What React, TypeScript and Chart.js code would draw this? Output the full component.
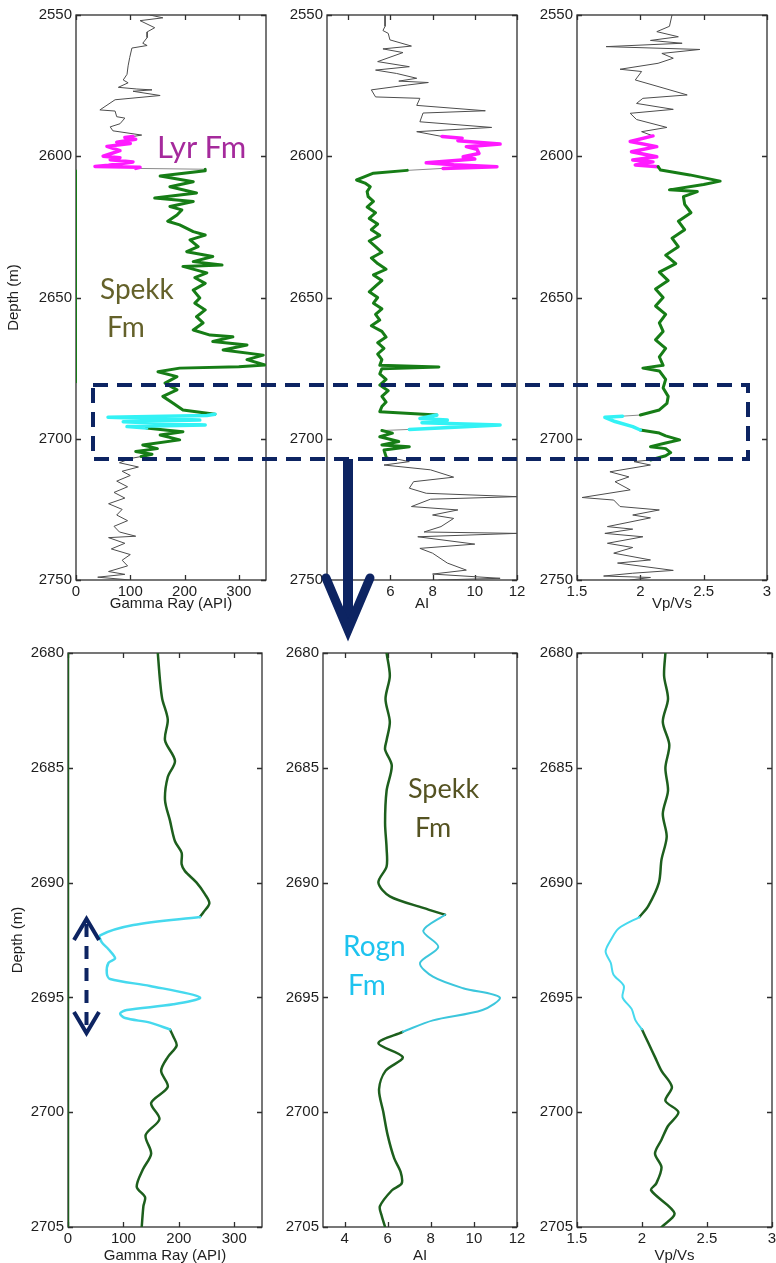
import React, { useEffect, useRef } from "react";
import { Chart, registerables } from "chart.js";
Chart.register(...registerables);

type P = [number, number]; // [depth (m), log value]

// ---------------- TOP ROW : 2550 - 2750 m ----------------
const GR_TOP_BLACK_UP: P[] = [[2550,136],[2551,160],[2552,118],[2554.5,145],[2556,131],[2558,131],[2560,123],[2560.8,131],[2561.7,103],[2565,99],[2568,96],[2571,94],[2573,87],[2574,96],[2575.6,78],[2576.2,112],[2576.5,140],[2577,105],[2578.5,155],[2580,72],[2583.6,44],[2584,72],[2586,75],[2586.5,90],[2588.5,81],[2589.6,63],[2591,68],[2592.5,121],[2593,105]];
const GR_TOP_LYR: P[] = [[2593,105],[2593.4,90],[2594,110],[2595,75],[2595.5,100],[2596.5,57],[2598,81],[2600,50],[2600.5,81],[2601.2,63],[2602,105],[2603.2,60],[2603.6,35],[2603.9,118],[2604.3,110]];
const GR_TOP_SPEKK_UP: P[] = [[2604.6,238],[2605.1,238],[2607,155],[2609,216],[2610.8,173],[2613,222],[2614.8,145],[2616,216],[2617.8,173],[2619,195],[2620.8,186],[2623,169],[2624.3,191],[2626.7,216],[2627.9,238],[2629.6,210],[2632,225],[2633.8,204],[2635.5,252],[2637.3,216],[2638.5,269],[2639,197],[2641.3,241],[2643,219],[2645,238],[2647.4,216],[2650.2,228],[2652,219],[2654.4,238],[2656.8,222],[2659,234],[2661.5,216],[2663.3,247],[2663.9,289],[2665.6,252],[2666.8,315],[2668.6,271],[2670.4,345],[2672,315],[2673.9,348],[2674.5,300],[2675,191],[2676.3,151],[2678,186],[2680.3,164],[2682.7,186],[2685,160],[2687.4,179],[2689.8,197],[2691.3,256]];
const GR_TOP_ROGN: P[] = [[2691.3,256],[2691.8,241],[2692.4,59],[2693.4,228],[2694,87],[2695.1,238],[2695.7,94],[2696.2,130]];
const GR_TOP_SPEKK_LOW: P[] = [[2696.2,130],[2697,168],[2697.5,197],[2698.7,155],[2700.4,191],[2702.2,123],[2703.5,150],[2704.5,110],[2705.5,140],[2706.3,120]];
const GR_TOP_BLACK_LOW: P[] = [[2706.3,120],[2707,100],[2708.5,80],[2710,115],[2711.5,85],[2713,100],[2715,75],[2717,95],[2719,70],[2721,90],[2723,60],[2725,85],[2727,75],[2729,95],[2731,70],[2733,80],[2734.5,110],[2735,60],[2737,90],[2739,65],[2741,100],[2743,85],[2745,95],[2747,60],[2748,90],[2749,40],[2750,100]];
const GR_TOP_ZERO: P[] = [[2605,0],[2680,0]];

const AI_TOP_BLACK_UP: P[] = [[2550,5.75],[2554,5.75],[2555.5,5.65],[2556.5,5.9],[2558.8,5.98],[2561,7.0],[2562,5.65],[2563.3,6.6],[2566.5,5.4],[2568.3,6.9],[2569.5,5.3],[2570.7,6.3],[2572.4,7.25],[2573.4,6.4],[2573.9,7.8],[2574.8,6.8],[2576.5,5.1],[2579,5.3],[2579.5,7.4],[2582,7.25],[2583.9,10.5],[2584.7,7.55],[2587.8,7.4],[2589.8,10.8],[2591.3,7.25],[2593,8.45]];
const AI_TOP_LYR: P[] = [[2593,8.45],[2593.6,9.4],[2594.5,9.2],[2595.7,11.2],[2596.6,9.6],[2597.5,10.1],[2599,10.2],[2600.2,9.45],[2601,10.0],[2602.3,7.7],[2603,9.0],[2603.7,11.05],[2604.3,8.5]];
const AI_TOP_SPEKK_UP: P[] = [[2605,6.8],[2606,5.2],[2607.5,4.7],[2608.4,4.4],[2609.5,4.8],[2610.8,5.05],[2612.5,4.9],[2614.3,4.95],[2616,5.2],[2618,4.9],[2620,5.3],[2622,5.0],[2624,5.4],[2626,5.1],[2628,5.5],[2630,5.0],[2632,5.3],[2634,5.6],[2636,5.1],[2638,5.4],[2640,5.8],[2642,5.2],[2644,5.6],[2646,5.3],[2648,5.0],[2650,5.4],[2652,5.2],[2654,5.6],[2656,5.3],[2658,5.5],[2660,5.1],[2662,5.6],[2664,5.8],[2666,5.4],[2668,5.7],[2670,5.4],[2672,5.6],[2674,5.5],[2674.6,8.3],[2675.2,5.6],[2677,5.5],[2679,5.8],[2681,5.5],[2683,5.9],[2685,5.6],[2687,5.8],[2688.6,5.6],[2690.4,5.5],[2691.6,8.2]];
const AI_TOP_ROGN: P[] = [[2691.6,8.2],[2692.8,7.4],[2693.4,8.7],[2694.3,7.5],[2695.1,11.2],[2696,8.8],[2696.7,6.9]];
const AI_TOP_SPEKK_LOW: P[] = [[2697.1,5.6],[2698,6.1],[2699.3,5.5],[2701,6.4],[2702.2,5.6],[2702.8,6.9],[2704,5.7],[2706.4,5.8]];
const AI_TOP_BLACK_LOW: P[] = [[2706.4,5.8],[2708.1,6.9],[2709.3,5.7],[2711,7.9],[2713.6,9.0],[2715.2,7.1],[2717.5,6.9],[2719.3,7.7],[2720.5,12.0],[2721.4,7.9],[2724,7.0],[2725.2,9.2],[2727,8.0],[2728.2,9.0],[2731.1,8.4],[2733,7.6],[2733.5,12.0],[2734.7,7.3],[2737.3,10.0],[2738.8,7.4],[2740.5,8.0],[2744,8.7],[2746.5,9.6],[2747.9,8.0],[2749.4,11.2],[2750,8.3]];

const VPVS_TOP_BLACK_UP: P[] = [[2550,2.25],[2554,2.23],[2555.9,2.13],[2557.7,2.3],[2559,2.08],[2560,2.33],[2561.2,1.73],[2562.2,2.47],[2563.6,2.17],[2565.3,2.26],[2567.1,2.14],[2569.2,1.84],[2570,2.01],[2573,1.96],[2574.8,2.1],[2578.3,2.37],[2579.5,2.02],[2581.3,1.97],[2583.4,2.26],[2584.8,1.92],[2587,1.97],[2589.8,2.21],[2591.3,2.01],[2592.8,2.1]];
const VPVS_TOP_LYR: P[] = [[2592.8,2.1],[2594.8,1.92],[2596.6,2.13],[2598.4,1.93],[2600.2,2.13],[2601.3,1.94],[2602,2.1],[2603.1,1.96],[2603.7,2.14]];
const VPVS_TOP_SPEKK_UP: P[] = [[2603.7,2.14],[2604.9,2.16],[2606.6,2.39],[2608.8,2.63],[2610,2.5],[2611.9,2.23],[2612.5,2.45],[2614.3,2.34],[2617,2.35],[2620,2.4],[2623,2.3],[2626,2.35],[2629,2.25],[2632,2.3],[2635,2.2],[2638,2.28],[2641,2.15],[2644,2.22],[2647,2.12],[2650,2.18],[2653,2.12],[2656,2.2],[2659,2.15],[2662,2.18],[2665,2.12],[2668,2.2],[2671,2.15],[2674,2.18],[2675,2.02],[2676,2.15],[2679,2.2],[2682,2.18],[2685,2.22],[2687.5,2.21],[2689.8,2.15],[2691.6,2.0]];
const VPVS_TOP_ROGN: P[] = [[2692,1.86],[2692.4,1.72],[2693.9,1.8],[2695.7,1.94],[2696.9,2.0]];
const VPVS_TOP_SPEKK_LOW: P[] = [[2696.9,2.0],[2698,2.15],[2699,2.2],[2700.4,2.31],[2701.5,2.2],[2702.8,2.08],[2703.5,2.2],[2704.9,2.24],[2706,2.2],[2707.5,2.08]];
const VPVS_TOP_BLACK_LOW: P[] = [[2707.5,2.08],[2708.1,1.95],[2709.3,2.08],[2711.7,1.76],[2713.5,1.91],[2715.2,1.8],[2718.1,1.92],[2720.8,1.54],[2721.7,1.79],[2724,1.84],[2725.2,2.15],[2727,1.94],[2728,2.08],[2731.1,1.74],[2732,1.94],[2733.5,1.72],[2734.7,2.02],[2737,1.74],[2738.5,1.94],[2740.5,1.79],[2742.9,2.08],[2744,1.82],[2746.6,2.26],[2747.6,1.94],[2748.6,1.71],[2749.1,2.08],[2750,1.92]];

// ---------------- BOTTOM ROW : 2680 - 2705 m ----------------
const GR_BOT_SPEKK_UP: P[] = [[2680,162],[2681.2,166],[2682,170],[2682.9,180],[2683.8,175],[2684.7,193],[2685.4,180],[2686.4,175],[2687.3,184],[2688.2,193],[2688.7,205],[2689.2,205],[2689.5,211],[2690,232],[2690.5,247],[2690.9,255],[2691.3,244],[2691.5,238]];
const GR_BOT_ROGN: P[] = [[2691.5,238],[2691.85,118],[2692.3,58],[2692.6,61],[2692.9,73],[2693.3,85],[2693.5,73],[2693.95,70],[2694.2,76],[2694.5,148],[2695,238],[2695.3,190],[2695.55,106],[2695.7,94],[2695.9,103],[2696.1,148],[2696.4,184]];
const GR_BOT_SPEKK_LOW: P[] = [[2696.4,184],[2696.7,190],[2697.1,196],[2697.6,180],[2698.2,168],[2698.9,180],[2699.6,150],[2700.3,165],[2701,140],[2701.8,150],[2702.5,135],[2703.25,124],[2703.7,139],[2704.1,136],[2705,133]];
const GR_BOT_ZERO: P[] = [[2680,0],[2705,0]];

const AI_BOT_SPEKK_UP: P[] = [[2680,5.95],[2681,6.1],[2682,5.9],[2683,6.1],[2683.8,5.95],[2684.2,5.88],[2684.9,6.19],[2686,5.95],[2687.4,5.88],[2688.5,5.95],[2689.3,5.95],[2690,5.57],[2690.6,6.1],[2691.1,7.65],[2691.4,8.66]];
const AI_BOT_ROGN: P[] = [[2691.4,8.66],[2692.1,7.65],[2692.8,8.35],[2693.5,7.5],[2694.1,8.1],[2694.6,9.5],[2695,11.2],[2695.55,10.4],[2696,8.1],[2696.5,6.7]];
const AI_BOT_SPEKK_LOW: P[] = [[2696.5,6.7],[2697,5.57],[2697.6,6.7],[2698.2,5.9],[2699,5.6],[2700,5.8],[2701,6.0],[2702,6.3],[2702.6,6.6],[2703.1,6.65],[2703.4,6.2],[2704.1,5.64],[2704.5,5.72],[2705,5.88]];

const VPVS_BOT_SPEKK_UP: P[] = [[2680,2.18],[2681,2.17],[2682,2.2],[2683,2.16],[2684,2.21],[2685,2.18],[2686,2.2],[2687,2.16],[2688,2.19],[2689,2.15],[2690,2.13],[2691,2.05],[2691.5,1.98]];
const VPVS_BOT_ROGN: P[] = [[2691.5,1.98],[2692,1.82],[2692.5,1.76],[2693,1.72],[2693.5,1.76],[2694,1.78],[2694.5,1.86],[2695,1.85],[2695.5,1.92],[2696,1.95],[2696.4,2.0]];
const VPVS_BOT_SPEKK_LOW: P[] = [[2696.4,2.0],[2697,2.05],[2697.6,2.1],[2698.2,2.15],[2698.9,2.23],[2699.5,2.18],[2700,2.28],[2700.6,2.2],[2701.2,2.15],[2701.8,2.1],[2702.4,2.15],[2703.1,2.11],[2703.4,2.07],[2704.4,2.25],[2705,2.15]];

// axis ticks
const DEPTH_TICKS_TOP = [2550, 2600, 2650, 2700, 2750];
const DEPTH_TICKS_BOT = [2680, 2685, 2690, 2695, 2700, 2705];
const GR_TICKS = [0, 100, 200, 300];
const AI_TICKS = [4, 6, 8, 10, 12];
const VPVS_TICKS = [1.5, 2, 2.5, 3];

const FONT = '"Liberation Sans", Arial, Helvetica, sans-serif';
const BLACK = "#4d4d4d";
const MAGENTA = "#ff1aff";
const GREEN_T = "#167d16";
const GREEN_B = "#1d5f1d";
const CYAN_T = "#33f2f5";
const CYAN_B = "#46d9ee";
const LINK = "#8a8a8a";
const NAVY = "#0d2462";

interface Seg { pts: P[]; color: string; width: number; tension?: number }
interface Spec {
  plotLeft: number; plotRight: number; plotTop: number; plotBottom: number;
  wy: number; padT: number; padR: number; hx: number;
  xMin: number; xMax: number; xTicks: number[]; xHide?: number[]; xTitle: string; xTitlePad: number;
  yMin: number; yMax: number; yTicks: number[]; yTitle?: string; yTitlePad?: number;
  segs: Seg[];
}

const link = (a: P[], b: P[]): P[] => [a[a.length - 1], b[0]];

const TOP = { plotTop: 15, plotBottom: 580, padT: 15, hx: 36, yMin: 2550, yMax: 2750, yTicks: DEPTH_TICKS_TOP, xTitlePad: 5 };
const BOT = { plotTop: 653, plotBottom: 1227, padT: 20, hx: 36, yMin: 2680, yMax: 2705, yTicks: DEPTH_TICKS_BOT, xTitlePad: 0 };

const SPECS: Spec[] = [
  { ...TOP, plotLeft: 76, plotRight: 266, wy: 76, padR: 10, xMin: 0, xMax: 350, xTicks: GR_TICKS, xTitle: "Gamma Ray (API)", yTitle: "Depth (m)", yTitlePad: 6,
    segs: [
      { pts: GR_TOP_ZERO, color: GREEN_T, width: 2 },
      { pts: GR_TOP_BLACK_UP, color: BLACK, width: 1 },
      { pts: GR_TOP_BLACK_LOW, color: BLACK, width: 1 },
      { pts: link(GR_TOP_LYR, GR_TOP_SPEKK_UP), color: LINK, width: 1 },
      { pts: GR_TOP_LYR, color: MAGENTA, width: 3.5 },
      { pts: GR_TOP_SPEKK_UP, color: GREEN_T, width: 3 },
      { pts: GR_TOP_SPEKK_LOW, color: GREEN_T, width: 3 },
      { pts: GR_TOP_ROGN, color: CYAN_T, width: 3.5 },
    ] },
  { ...TOP, plotLeft: 327, plotRight: 517, wy: 50, padR: 12, xMin: 3, xMax: 12, xTicks: AI_TICKS, xHide: [4], xTitle: "AI",
    segs: [
      { pts: AI_TOP_BLACK_UP, color: BLACK, width: 1 },
      { pts: AI_TOP_BLACK_LOW, color: BLACK, width: 1 },
      { pts: link(AI_TOP_LYR, AI_TOP_SPEKK_UP), color: LINK, width: 1 },
      { pts: link(AI_TOP_ROGN, AI_TOP_SPEKK_LOW), color: LINK, width: 1 },
      { pts: AI_TOP_LYR, color: MAGENTA, width: 3.5 },
      { pts: AI_TOP_SPEKK_UP, color: GREEN_T, width: 3 },
      { pts: AI_TOP_SPEKK_LOW, color: GREEN_T, width: 3 },
      { pts: AI_TOP_ROGN, color: CYAN_T, width: 3.5 },
    ] },
  { ...TOP, plotLeft: 577, plotRight: 767, wy: 50, padR: 9, xMin: 1.5, xMax: 3, xTicks: VPVS_TICKS, xTitle: "Vp/Vs",
    segs: [
      { pts: VPVS_TOP_BLACK_UP, color: BLACK, width: 1 },
      { pts: VPVS_TOP_BLACK_LOW, color: BLACK, width: 1 },
      { pts: link(VPVS_TOP_SPEKK_UP, VPVS_TOP_ROGN), color: LINK, width: 1 },
      { pts: VPVS_TOP_LYR, color: MAGENTA, width: 3.5 },
      { pts: VPVS_TOP_SPEKK_UP, color: GREEN_T, width: 3 },
      { pts: VPVS_TOP_SPEKK_LOW, color: GREEN_T, width: 3 },
      { pts: VPVS_TOP_ROGN, color: CYAN_T, width: 3.5 },
    ] },
  { ...BOT, plotLeft: 68, plotRight: 262, wy: 68, padR: 10, xMin: 0, xMax: 350, xTicks: GR_TICKS, xTitle: "Gamma Ray (API)", yTitle: "Depth (m)", yTitlePad: 10,
    segs: [
      { pts: GR_BOT_ZERO, color: GREEN_B, width: 2.5 },
      { pts: GR_BOT_SPEKK_UP, color: GREEN_B, width: 2.5, tension: 0.3 },
      { pts: GR_BOT_SPEKK_LOW, color: GREEN_B, width: 2.5, tension: 0.3 },
      { pts: GR_BOT_ROGN, color: CYAN_B, width: 2.5, tension: 0.3 },
    ] },
  { ...BOT, plotLeft: 323, plotRight: 517, wy: 50, padR: 12, xMin: 3, xMax: 12, xTicks: AI_TICKS, xTitle: "AI",
    segs: [
      { pts: AI_BOT_SPEKK_UP, color: GREEN_B, width: 2.5, tension: 0.3 },
      { pts: AI_BOT_SPEKK_LOW, color: GREEN_B, width: 2.5, tension: 0.3 },
      { pts: AI_BOT_ROGN, color: "#3cc6dc", width: 2, tension: 0.3 },
    ] },
  { ...BOT, plotLeft: 577, plotRight: 772, wy: 50, padR: 4, xMin: 1.5, xMax: 3, xTicks: VPVS_TICKS, xTitle: "Vp/Vs",
    segs: [
      { pts: VPVS_BOT_SPEKK_UP, color: GREEN_B, width: 2.5, tension: 0.3 },
      { pts: VPVS_BOT_SPEKK_LOW, color: GREEN_B, width: 2.5, tension: 0.3 },
      { pts: VPVS_BOT_ROGN, color: CYAN_B, width: 2, tension: 0.3 },
    ] },
];

const framePlugin = {
  id: "frame",
  beforeDatasetsDraw(chart: any) {
    const { ctx, chartArea } = chart;
    const { left, right, top, bottom } = chartArea;
    const xs = chart.scales.x, ys = chart.scales.y;
    ctx.save();
    ctx.strokeStyle = "#2e2e2e";
    ctx.lineWidth = 1.3;
    ctx.strokeRect(left, top, right - left, bottom - top);
    const tl = 5;
    ctx.beginPath();
    xs.ticks.forEach((t: any) => {
      const px = Math.round(xs.getPixelForValue(t.value)) + 0.5;
      ctx.moveTo(px, bottom); ctx.lineTo(px, bottom - tl);
      ctx.moveTo(px, top); ctx.lineTo(px, top + tl);
    });
    ys.ticks.forEach((t: any) => {
      const py = Math.round(ys.getPixelForValue(t.value)) + 0.5;
      ctx.moveTo(left, py); ctx.lineTo(left + tl, py);
      ctx.moveTo(right, py); ctx.lineTo(right - tl, py);
    });
    ctx.stroke();
    ctx.restore();
  },
};

function LogPanel({ spec }: { spec: Spec }) {
  const ref = useRef<HTMLCanvasElement>(null);
  const cLeft = spec.plotLeft - spec.wy;
  const cTop = spec.plotTop - spec.padT;
  const cW = spec.wy + (spec.plotRight - spec.plotLeft) + spec.padR;
  const cH = spec.padT + (spec.plotBottom - spec.plotTop) + spec.hx;
  useEffect(() => {
    const canvas = ref.current!;
    const datasets = spec.segs
      .map((s) => ({
        data: s.pts.map(([d, v]) => ({ x: v, y: d })),
        borderColor: s.color,
        borderWidth: s.width,
        pointRadius: 0,
        fill: false,
        tension: s.tension ?? 0,
        borderJoinStyle: "round" as const,
        borderCapStyle: "round" as const,
      }))
      .reverse();
    const tickFont = { family: FONT, size: 15, lineHeight: 1.2 };
    const chart = new Chart(canvas, {
      type: "line",
      data: { datasets },
      plugins: [framePlugin],
      options: {
        responsive: false,
        animation: false,
        events: [],
        layout: { padding: { left: 0, top: spec.padT, right: spec.padR, bottom: 0 } },
        plugins: { legend: { display: false }, tooltip: { enabled: false } },
        scales: {
          x: {
            type: "linear",
            min: spec.xMin,
            max: spec.xMax,
            grid: { display: false, drawTicks: false },
            border: { display: false },
            ticks: {
              color: "#1e1e1e",
              font: tickFont,
              padding: 3,
              maxRotation: 0,
              autoSkip: false,
              callback: (v: any) => (spec.xHide && spec.xHide.includes(Number(v)) ? "" : String(v)),
            },
            title: { display: true, text: spec.xTitle, color: "#1e1e1e", font: { family: FONT, size: 15, lineHeight: 1 }, padding: { top: 0, bottom: spec.xTitlePad } },
            afterBuildTicks: (s: any) => { s.ticks = spec.xTicks.map((v) => ({ value: v })); },
            afterFit: (s: any) => { s.height = spec.hx; s.paddingLeft = 0; s.paddingRight = 0; },
          },
          y: {
            type: "linear",
            reverse: true,
            min: spec.yMin,
            max: spec.yMax,
            grid: { display: false, drawTicks: false },
            border: { display: false },
            ticks: { color: "#1e1e1e", font: tickFont, padding: 4, autoSkip: false, callback: (v: any) => String(v) },
            title: spec.yTitle
              ? { display: true, text: spec.yTitle, color: "#1e1e1e", font: { family: FONT, size: 15, lineHeight: 1 }, padding: { top: spec.yTitlePad ?? 6, bottom: 0 } }
              : { display: false },
            afterBuildTicks: (s: any) => { s.ticks = spec.yTicks.map((v) => ({ value: v })); },
            afterFit: (s: any) => { s.width = spec.wy; s.paddingTop = 0; s.paddingBottom = 0; },
          },
        },
      } as any,
    });
    return () => chart.destroy();
  }, []);
  return (
    <canvas
      ref={ref}
      width={cW}
      height={cH}
      style={{ position: "absolute", left: cLeft, top: cTop, width: cW, height: cH }}
    />
  );
}

function Overlay() {
  const lato = "Lato, 'Open Sans', sans-serif";
  return (
    <svg width={776} height={1263} style={{ position: "absolute", left: 0, top: 0, pointerEvents: "none" }}>
      {/* zoom window on the upper logs */}
      <rect x={93} y={385} width={655} height={74} fill="none" stroke={NAVY} strokeWidth={4} strokeDasharray="15 9" />
      {/* big arrow down to the zoomed logs */}
      <rect x={343} y={459} width={10} height={168} fill={NAVY} />
      <polyline points="326,578 348,630 370,578" fill="none" stroke={NAVY} strokeWidth={9} strokeLinecap="round" strokeLinejoin="miter" />
      {/* dashed double arrow marking Rogn Fm */}
      <line x1={86.5} y1={924} x2={86.5} y2={1028} stroke={NAVY} strokeWidth={4} strokeDasharray="13 9" />
      <polyline points="74,940 86.5,919 99,940" fill="none" stroke={NAVY} strokeWidth={4} />
      <polyline points="74,1012 86.5,1033 99,1012" fill="none" stroke={NAVY} strokeWidth={4} />
      {/* formation labels */}
      <text x={157} y={158} fontFamily={lato} fontSize={31} fill="#a52a9c">Lyr Fm</text>
      <text x={100} y={299} fontFamily={lato} fontSize={28} fill="#64612a">Spekk</text>
      <text x={107} y={337} fontFamily={lato} fontSize={28} fill="#64612a">Fm</text>
      <text x={408} y={798} fontFamily={lato} fontSize={27} fill="#555322">Spekk</text>
      <text x={415} y={837} fontFamily={lato} fontSize={27} fill="#555322">Fm</text>
      <text x={343} y={956} fontFamily={lato} fontSize={28} fill="#1ec3ef">Rogn</text>
      <text x={348} y={995} fontFamily={lato} fontSize={28} fill="#1ec3ef">Fm</text>
    </svg>
  );
}

export default function App() {
  return (
    <div style={{ position: "absolute", left: 0, top: 0, width: 776, height: 1263, overflow: "hidden", background: "#fff" }}>
      {SPECS.map((s, i) => (
        <LogPanel key={i} spec={s} />
      ))}
      <Overlay />
    </div>
  );
}
